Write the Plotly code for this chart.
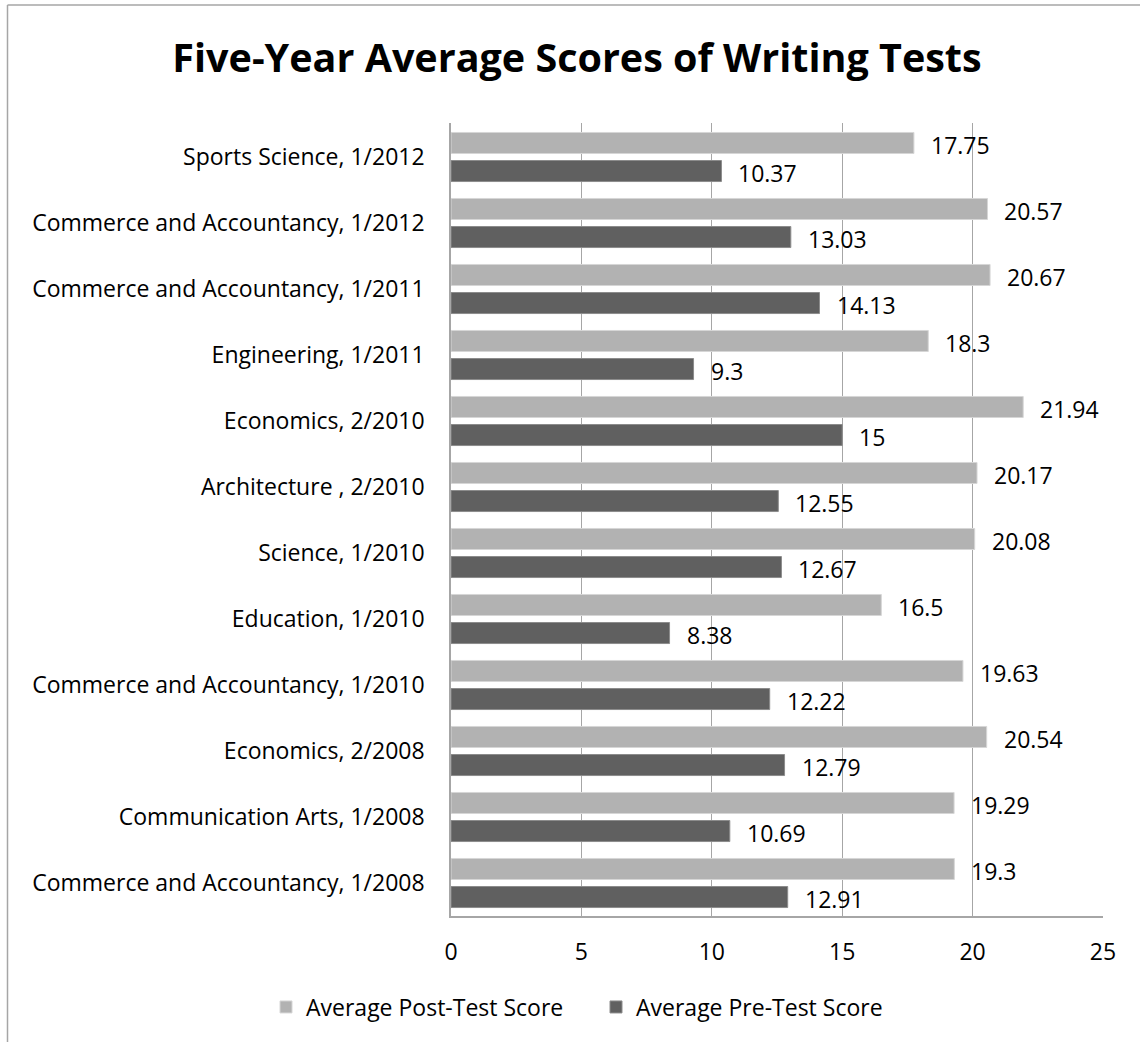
import plotly.graph_objects as go

# Programmes and test sessions, listed from top to bottom of the chart
categories = [
    "Sports Science, 1/2012",
    "Commerce and Accountancy, 1/2012",
    "Commerce and Accountancy, 1/2011",
    "Engineering, 1/2011",
    "Economics, 2/2010",
    "Architecture , 2/2010",
    "Science, 1/2010",
    "Education, 1/2010",
    "Commerce and Accountancy, 1/2010",
    "Economics, 2/2008",
    "Communication Arts, 1/2008",
    "Commerce and Accountancy, 1/2008",
]
post_scores = [17.75, 20.57, 20.67, 18.3, 21.94, 20.17, 20.08, 16.5, 19.63, 20.54, 19.29, 19.3]
pre_scores = [10.37, 13.03, 14.13, 9.3, 15, 12.55, 12.67, 8.38, 12.22, 12.79, 10.69, 12.91]
x_ticks = [0, 5, 10, 15, 20, 25]

FONT = "Open Sans, sans-serif"
FS = 23
W, H = 1140, 1042
ML, MR, MT, MB = 451, 37, 123, 126
PW, PH = W - ML - MR, H - MT - MB

fig = go.Figure()
fig.add_trace(go.Bar(
    name="Average Post-Test Score", y=categories, x=post_scores, orientation="h",
    marker=dict(color="#b2b2b2", line=dict(color="#d6d6d6", width=1)),
    hoverinfo="x+y",
))
fig.add_trace(go.Bar(
    name="Average Pre-Test Score", y=categories, x=pre_scores, orientation="h",
    marker=dict(color="#606060", line=dict(color="#8c8c8c", width=1)),
    hoverinfo="x+y",
))

# value labels just past the end of each bar
for cat, v in zip(categories, post_scores):
    fig.add_annotation(x=v, y=cat, text=f"{v:g}", showarrow=False, xanchor="left",
                       yanchor="middle", xshift=15, yshift=12,
                       font=dict(family=FONT, size=FS, color="#000000"))
for cat, v in zip(categories, pre_scores):
    fig.add_annotation(x=v, y=cat, text=f"{v:g}", showarrow=False, xanchor="left",
                       yanchor="middle", xshift=15, yshift=-16,
                       font=dict(family=FONT, size=FS, color="#000000"))

# outer chart frame (left and top edges)
frame = dict(color="#a6a6a6", width=1.5)
fx0 = (7.5 - ML) / PW
fy1 = (MT + PH - 5) / PH
fig.add_shape(type="line", xref="paper", yref="paper", x0=fx0, x1=fx0,
              y0=-(H + 10 - MT - PH) / PH, y1=fy1, line=frame, layer="below")
fig.add_shape(type="line", xref="paper", yref="paper", x0=fx0, x1=(W + 10 - ML) / PW,
              y0=fy1, y1=fy1, line=frame, layer="below")

fig.update_layout(
    width=W, height=H,
    margin=dict(l=ML, r=MR, t=MT, b=MB, pad=0, autoexpand=False),
    paper_bgcolor="white", plot_bgcolor="white",
    barmode="group", bargap=0.15, bargroupgap=0.25,
    font=dict(family=FONT, size=FS, color="#000000"),
    title=dict(text="<b>Five-Year Average Scores of Writing Tests</b>",
               x=577 / W, xanchor="center", y=1 - 58 / H, yanchor="middle",
               font=dict(family=FONT, size=39.5, color="#000000")),
    xaxis=dict(range=[0, 25], tickvals=x_ticks, showgrid=True, gridcolor="#a6a6a6",
               gridwidth=1, zeroline=False, showline=True, linecolor="#a6a6a6",
               linewidth=1.5, ticks="", ticklabelstandoff=15,
               tickfont=dict(family=FONT, size=FS)),
    yaxis=dict(autorange="reversed", showgrid=False, zeroline=False, showline=True,
               linecolor="#a6a6a6", linewidth=1.5, ticks="", ticklabelstandoff=20,
               tickfont=dict(family=FONT, size=FS)),
    legend=dict(orientation="h", x=(266 - ML) / PW, xanchor="left",
                y=-(1007 - MT - PH) / PH, yanchor="middle",
                font=dict(family=FONT, size=FS), entrywidth=285,
                bgcolor="rgba(0,0,0,0)"),
    showlegend=True,
)

fig.write_html("out.html")
